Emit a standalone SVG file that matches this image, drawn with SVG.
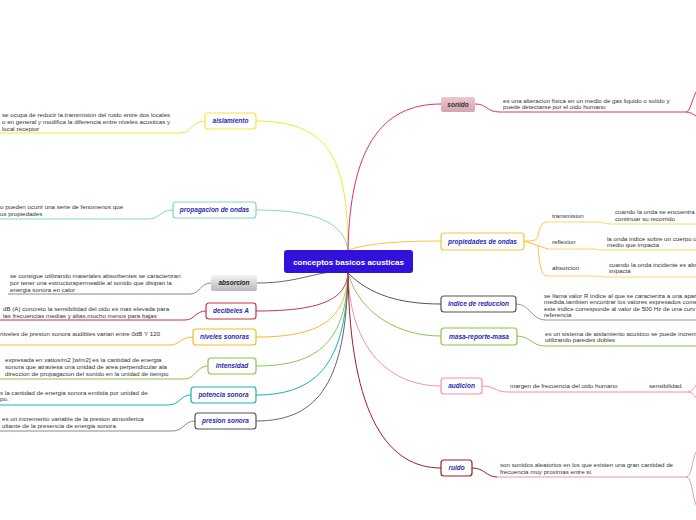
<svg xmlns="http://www.w3.org/2000/svg" width="696" height="520" viewBox="0 0 696 520">
<defs>
<linearGradient id="gGray" x1="0" y1="0" x2="0" y2="1"><stop offset="0" stop-color="#f4f4f4"/><stop offset="1" stop-color="#b8b8b8"/></linearGradient>
<linearGradient id="gPink" x1="0" y1="0" x2="0" y2="1"><stop offset="0" stop-color="#ecc8d0"/><stop offset="1" stop-color="#d4a4b0"/></linearGradient>
<style>
.n{stroke-width:1.2;fill:#fff}
.lbl{font-family:"Liberation Sans",Arial,sans-serif;font-size:6.5px;font-weight:bold;font-style:italic;fill:#2b2bb0;text-anchor:middle}
.t{font-family:"Liberation Sans",Arial,sans-serif;font-size:6.2px;fill:#333}
.c{fill:none;stroke-width:1}
</style>
</defs>
<rect width="696" height="520" fill="#fff"/>
<g id="connectors">
<path class="c" stroke="#f7e43a" d="M348,252 C348,160 330,121 256,121"/>
<path class="c" stroke="#7fd8c8" d="M348,252 C346,225 320,210 256,210"/>
<path class="c" stroke="#666" d="M330,272 C305,276 290,283 257,283"/>
<path class="c" stroke="#c7314a" d="M348,273 C346,300 320,311 256,311"/>
<path class="c" stroke="#f9b928" d="M348,273 C346,320 320,337 256,337"/>
<path class="c" stroke="#8cc64d" d="M348,273 C346,340 320,366 256,366"/>
<path class="c" stroke="#19b3b3" d="M348,273 C346,360 320,395 256,395"/>
<path class="c" stroke="#666" d="M348,273 C346,380 320,421 256,421"/>
<path class="c" stroke="#e0306c" d="M348,250 C350,150 380,104 441,104"/>
<path class="c" stroke="#f9c33a" d="M348,250 C370,243 400,241 441,241"/>
<path class="c" stroke="#555" d="M348,273 C370,295 400,304 441,304"/>
<path class="c" stroke="#8cc64d" d="M348,273 C360,315 400,336 441,336"/>
<path class="c" stroke="#f48fb1" d="M348,273 C350,350 390,386 441,386"/>
<path class="c" stroke="#9b2020" d="M348,273 C350,420 390,468 441,468"/>
<path class="c" stroke="#f7e43a" stroke-width="1.3" d="M205,121 C192,121 192,133 180,133 L0,133"/>
<path class="c" stroke="#7fd8c8" d="M173,210 C160,210 160,219 148,219 L0,219"/>
<path class="c" stroke="#888" d="M211,283 C200,283 200,294 190,294 L8,294"/>
<path class="c" stroke="#c7314a" d="M206,311 C195,311 195,320 185,320 L0,320"/>
<path class="c" stroke="#f9b928" d="M193,337 C180,337 180,345 170,345 L0,345"/>
<path class="c" stroke="#8cc64d" d="M208,366 C196,366 196,379 184,379 L0,379"/>
<path class="c" stroke="#19b3b3" stroke-width="1.6" d="M191,395 C180,395 180,405 168,405 L0,405"/>
<path class="c" stroke="#888" d="M195,421 C184,421 184,431 172,431 L0,431"/>
<path class="c" stroke="#e0306c" d="M475,104 C488,104 486,112 500,112 L686,112 C690,112 692,100 696,92 M686,112 C690,112 693,114 696,116"/>
<path class="c" stroke="#f9c33a" stroke-width="1.6" d="M524,241 C534,241 536,241 538,236 C540,226 542,222 548,222 M538,246 C540,270 542,276 548,276 M524,241 L548,249"/>
<path class="c" stroke="#f9d66a" d="M548,222 L598,222 C604,222 604,224 612,224 L696,224 M548,249 L592,249 C598,249 598,250 604,250 L696,250 M548,276 L594,276 C600,276 600,277 606,277 L696,277"/>
<path class="c" stroke="#999" d="M516,304 C530,304 532,320 545,320 L696,320"/>
<path class="c" stroke="#8cc64d" stroke-width="1.5" d="M517,336 C530,336 532,346 545,346 L696,346"/>
<path class="c" stroke="#f48fb1" stroke-width="1.4" d="M482,386 C495,386 495,392 508,392 L688,392 C692,392 694,388 696,385 M688,392 C692,392 694,395 696,398"/>
<path class="c" stroke="#9b2020" stroke-width="1.8" d="M472,468 C485,468 486,477 497,477"/>
<path class="c" stroke="#d9a0a0" d="M497,477 L686,477 C692,477 692,460 696,452 M686,477 C692,477 692,495 696,505"/>
</g>
<g id="center">
<rect x="284" y="250" width="129" height="23" rx="3" fill="#3311dd"/>
<text x="348.5" y="264.8" font-family="'Liberation Sans',Arial,sans-serif" font-size="8" font-weight="bold" fill="#fff" text-anchor="middle">conceptos basicos acusticas</text>
</g>
<g id="aislamiento">
<rect class="n" x="205" y="113" width="51" height="16" rx="3" stroke="#f7e43a"/>
<text class="lbl" x="230.5" y="123.3">aislamiento</text>
<text class="t" x="2" y="117">se ocupa de reducir la transmision del ruido entre dos locales</text>
<text class="t" x="2" y="124">o en general y modifica la diferencia entre niveles acusticas y</text>
<text class="t" x="2" y="131">local receptor</text>
</g>
<g id="propagacion">
<rect class="n" x="173" y="202" width="83" height="16" rx="3" stroke="#7fd8c8"/>
<text class="lbl" x="214.5" y="212.3">propagacion de ondas</text>
<text class="t" x="0" y="209">o pueden ocurir una serie de fenomenos que</text>
<text class="t" x="0" y="216">us propiedades</text>
</g>
<g id="absorcion">
<rect x="211" y="275" width="46" height="16" rx="2" fill="url(#gGray)"/>
<text class="lbl" x="234" y="285.3" style="fill:#222">absorcion</text>
<text class="t" x="10" y="278">se consigue utilizando materiales absorbentes se caracterizan</text>
<text class="t" x="10" y="285">por tener una estructurapermeable al sonido que disipan la</text>
<text class="t" x="10" y="292">energia sonora en calor</text>
</g>
<g id="decibeles">
<rect class="n" x="206" y="303" width="50" height="16" rx="3" stroke="#c7314a"/>
<text class="lbl" x="231" y="313.3">decibeles A</text>
<text class="t" x="3" y="311">dB (A) concreto la sensibilidad del oido es mas elevada para</text>
<text class="t" x="3" y="318">las frecuencias medias y altas,mucho menos para bajas</text>
</g>
<g id="niveles">
<rect class="n" x="193" y="329" width="63" height="16" rx="3" stroke="#f9b928"/>
<text class="lbl" x="224.5" y="339.3">niveles sonoras</text>
<text class="t" x="0" y="336">niveles de presion sonora audibles varian entre 0dB Y 120</text>
</g>
<g id="intensidad">
<rect class="n" x="208" y="358" width="48" height="16" rx="3" stroke="#8cc64d"/>
<text class="lbl" x="232" y="368.3">intensidad</text>
<text class="t" x="5" y="362">expresada en vatios/m2 [w/m2] es la cantidad de energia</text>
<text class="t" x="5" y="369">sonora que atraviesa una unidad de area perpendicular  ala</text>
<text class="t" x="5" y="376">direccion de propagacion del sonido en la unidad de tiempo</text>
</g>
<g id="potencia">
<rect class="n" x="191" y="387" width="65" height="16" rx="3" stroke="#19b3b3"/>
<text class="lbl" x="223.5" y="397.3">potencia sonora</text>
<text class="t" x="0" y="395">s la cantidad de energia sonora emitida por unidad de</text>
<text class="t" x="0" y="401">po.</text>
</g>
<g id="presion">
<rect class="n" x="195" y="413" width="61" height="16" rx="3" stroke="#555"/>
<text class="lbl" x="225.5" y="423.3">presion sonora</text>
<text class="t" x="2" y="421">  es un incremento variable de la presion atmosferica</text>
<text class="t" x="2" y="428">ultante de la presencia de energia sonora</text>
</g>
<g id="sonido">
<rect x="441" y="97" width="34" height="15" rx="2" fill="url(#gPink)"/>
<text class="lbl" x="458" y="106.8" style="fill:#333">sonido</text>
<text class="t" x="503" y="103">es una alteracion fisica en un medio de gas liquido o solido y</text>
<text class="t" x="503" y="109">puede detectarse por el oido humano</text>
</g>
<g id="propiedades">
<rect class="n" x="441" y="233" width="83" height="17" rx="3" stroke="#f9c33a"/>
<text class="lbl" x="482.5" y="243.8">propiedades de ondas</text>
<text class="t" x="552" y="218">transmision</text>
<text class="t" x="615" y="214">cuando la onda se encuentra</text>
<text class="t" x="615" y="221">continuar su recorrido</text>
<text class="t" x="552" y="244">reflexion</text>
<text class="t" x="607" y="241">la onda indice sobre un cuerpo o</text>
<text class="t" x="607" y="247">medio que impacta</text>
<text class="t" x="552" y="270">absorcion</text>
<text class="t" x="609" y="267">cuando la onda incidente es abs</text>
<text class="t" x="609" y="273">impacta</text>
</g>
<g id="indice">
<rect class="n" x="441" y="296" width="75" height="16" rx="3" stroke="#555"/>
<text class="lbl" x="478.5" y="306.3">indice de reduccion</text>
<text class="t" x="544" y="298">se llama valor R indice al que se caracteriza a una apar</text>
<text class="t" x="544" y="304">medida.tambien encontrar los valores expresados come</text>
<text class="t" x="544" y="311">este indice corresponde al valor de 500 Hz de una curv</text>
<text class="t" x="544" y="317">referencia</text>
</g>
<g id="masa">
<rect class="n" x="441" y="328" width="76" height="17" rx="3" stroke="#8cc64d"/>
<text class="lbl" x="479" y="338.8">masa-reporte-masa</text>
<text class="t" x="545" y="336">es un sistema de aislamiento acustico se puede increm</text>
<text class="t" x="545" y="342">utilizando paredes dobles</text>
</g>
<g id="audicion">
<rect class="n" x="441" y="378" width="41" height="16" rx="3" stroke="#f48fb1"/>
<text class="lbl" x="461.5" y="388.3">audicion</text>
<text class="t" x="510" y="388">margen de frecuencia del oido humano</text>
<text class="t" x="649" y="388">sensibilidad</text>
</g>
<g id="ruido">
<rect class="n" x="441" y="460" width="31" height="16" rx="3" stroke="#9b2020"/>
<text class="lbl" x="456.5" y="470.3">ruido</text>
<text class="t" x="500" y="467">son sonidos aleatorios en los que existen una gran cantidad de</text>
<text class="t" x="500" y="474">frecuencia muy proximas entre si.</text>
</g>
</svg>
